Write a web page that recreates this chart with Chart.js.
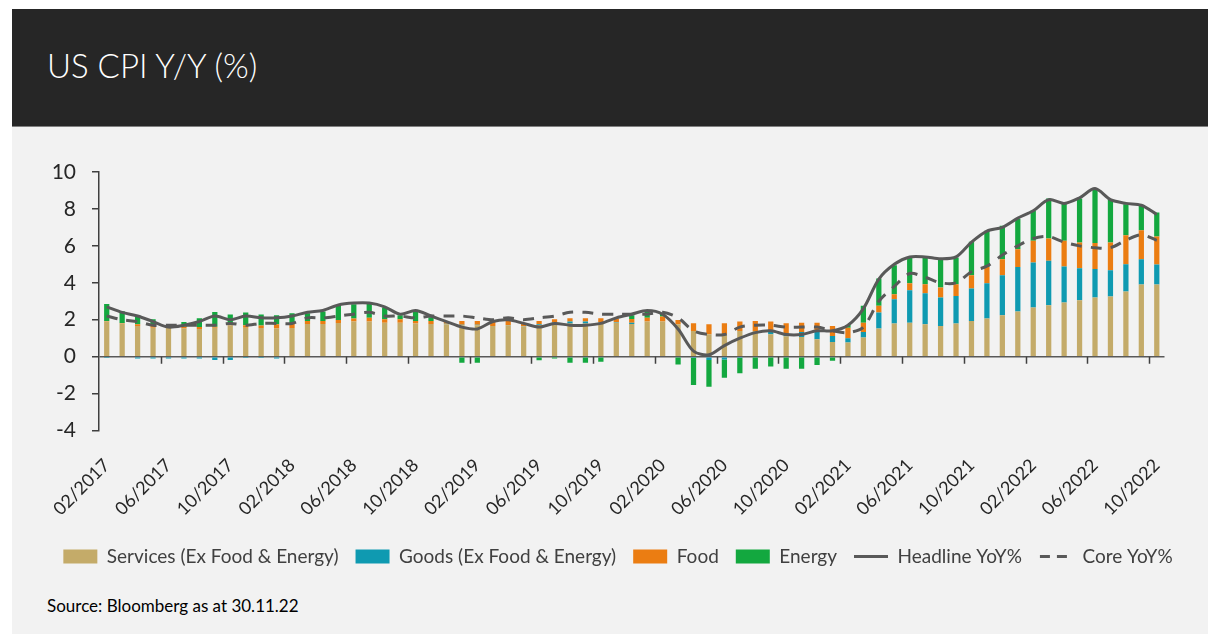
<!DOCTYPE html>
<html>
<head>
<meta charset="utf-8">
<title>US CPI Y/Y (%)</title>
<script src="https://cdn.jsdelivr.net/npm/chart.js@4.4.0/dist/chart.umd.min.js"></script>
<style>
  body { margin: 0; background: #fff; font-family: Lato, "Open Sans", sans-serif; }
  #page { position: relative; width: 1208px; height: 634px; overflow: hidden; }
  #header { position: absolute; left: 12px; top: 9px; width: 1196px; height: 117px; background: #262626; border-bottom: 1px solid #7f7f7f; }
  #header h1 { margin: 0; position: absolute; left: 35px; top: 40px; color: #fff; font-weight: 300; font-size: 33px; line-height: 33px; }
  #panel { position: absolute; left: 12px; top: 127px; width: 1196px; height: 507px; background: #f2f2f2; }
  #chart { position: absolute; left: 0; top: 0; }
  #source { position: absolute; left: 35px; top: 470px; font-size: 17px; line-height: 17px; color: #000; }
</style>
</head>
<body>
<div id="page">
  <div id="header"><h1>US CPI Y/Y (%)</h1></div>
  <div id="panel">
    <canvas id="chart" width="1196" height="449"></canvas>
    <div id="source">Source: Bloomberg as at 30.11.22</div>
  </div>
</div>
<script>
// Months, 02/2017 - 10/2022
const months = [
  '02/2017','03/2017','04/2017','05/2017','06/2017','07/2017','08/2017','09/2017','10/2017','11/2017','12/2017',
  '01/2018','02/2018','03/2018','04/2018','05/2018','06/2018','07/2018','08/2018','09/2018','10/2018','11/2018','12/2018',
  '01/2019','02/2019','03/2019','04/2019','05/2019','06/2019','07/2019','08/2019','09/2019','10/2019','11/2019','12/2019',
  '01/2020','02/2020','03/2020','04/2020','05/2020','06/2020','07/2020','08/2020','09/2020','10/2020','11/2020','12/2020',
  '01/2021','02/2021','03/2021','04/2021','05/2021','06/2021','07/2021','08/2021','09/2021','10/2021','11/2021','12/2021',
  '01/2022','02/2022','03/2022','04/2022','05/2022','06/2022','07/2022','08/2022','09/2022','10/2022'
];

// Contributions to Y/Y (percentage points)
const services = [
  1.90,1.79,1.66,1.57,1.63,1.53,1.50,1.57,1.70,1.57,1.55,
  1.53,1.55,1.77,1.77,1.82,1.90,1.90,1.84,1.84,1.79,1.77,1.75,
  1.70,1.70,1.66,1.70,1.63,1.72,1.75,1.80,1.80,1.85,1.84,1.77,
  1.90,1.90,1.75,1.39,1.21,1.21,1.39,1.39,1.21,1.10,1.06,0.94,
  0.79,0.76,1.03,1.52,1.79,1.84,1.76,1.66,1.79,1.93,2.06,2.24,
  2.44,2.66,2.78,2.93,3.05,3.20,3.26,3.53,3.91,3.91
];
const goods = [
  -0.07,-0.05,-0.10,-0.10,-0.10,-0.10,-0.10,-0.18,-0.18,-0.07,-0.08,
  -0.10,-0.05,0.00,-0.05,0.00,0.00,0.00,0.00,0.00,0.00,0.00,0.03,
  0.03,0.03,0.00,0.02,0.02,0.03,0.10,0.10,0.10,0.03,0.02,0.07,
  0.00,0.00,0.00,-0.08,-0.18,-0.15,-0.07,0.00,0.13,0.15,0.28,0.45,
  0.33,0.23,0.31,0.87,1.32,1.76,1.67,1.54,1.50,1.76,1.92,2.17,
  2.42,2.44,2.41,1.95,1.74,1.54,1.42,1.48,1.37,1.08
];
const food = [
  0.03,0.03,0.09,0.09,0.07,0.09,0.11,0.05,0.09,0.13,0.14,
  0.22,0.22,0.16,0.16,0.16,0.16,0.20,0.18,0.18,0.14,0.16,0.12,
  0.20,0.20,0.24,0.25,0.12,0.18,0.17,0.18,0.18,0.20,0.20,0.20,
  0.20,0.27,0.24,0.42,0.54,0.60,0.51,0.54,0.56,0.56,0.50,0.45,
  0.54,0.58,0.50,0.36,0.27,0.38,0.49,0.54,0.63,0.72,0.88,0.87,
  0.96,1.17,1.21,1.39,1.39,1.41,1.50,1.57,1.57,1.52
];
const energy = [
  0.92,0.64,0.48,0.36,0.02,0.26,0.47,0.80,0.49,0.69,0.59,
  0.49,0.58,0.42,0.51,0.80,0.78,0.78,0.64,0.22,0.55,0.20,0.00,
  -0.33,-0.33,-0.05,0.02,-0.05,-0.20,-0.10,-0.33,-0.33,-0.27,0.02,0.20,
  0.32,0.18,-0.42,-1.46,-1.45,-0.99,-0.83,-0.65,-0.54,-0.65,-0.65,-0.45,
  -0.22,0.15,0.91,1.48,1.57,1.39,1.45,1.54,1.45,1.81,1.96,1.81,
  1.63,1.63,2.17,2.03,2.39,2.96,2.35,1.68,1.32,1.30
];

// Headline and core Y/Y %
const headline = [
  2.7,2.4,2.2,1.9,1.6,1.7,1.9,2.2,2.0,2.2,2.1,
  2.1,2.2,2.4,2.5,2.8,2.9,2.9,2.7,2.3,2.5,2.2,1.9,
  1.6,1.5,1.9,2.0,1.8,1.6,1.8,1.7,1.7,1.8,2.1,2.3,
  2.5,2.3,1.5,0.3,0.1,0.6,1.0,1.3,1.4,1.2,1.2,1.4,
  1.4,1.7,2.6,4.2,5.0,5.4,5.4,5.3,5.4,6.2,6.8,7.0,
  7.5,7.9,8.5,8.3,8.6,9.1,8.5,8.3,8.2,7.7
];
const core = [
  2.2,2.0,1.9,1.7,1.7,1.7,1.7,1.7,1.8,1.7,1.8,
  1.8,1.8,2.1,2.1,2.2,2.3,2.4,2.2,2.2,2.1,2.2,2.2,
  2.2,2.1,2.0,2.1,2.0,2.1,2.2,2.4,2.4,2.3,2.3,2.3,
  2.3,2.4,2.1,1.4,1.2,1.2,1.6,1.7,1.7,1.6,1.6,1.6,
  1.4,1.3,1.6,3.0,3.8,4.5,4.3,4.0,4.0,4.6,4.9,5.5,
  6.0,6.4,6.5,6.2,6.0,5.9,5.9,6.3,6.6,6.3
];

const yTicks = [-4, -2, 0, 2, 4, 6, 8, 10];
const labelEvery = 4;

const textColor = '#262626';
const lineColor = '#595959';

// small tick marks on the zero line, between every 4th category
const zeroTicks = {
  id: 'zeroTicks',
  afterDatasetsDraw(chart) {
    const x = chart.scales.x, y = chart.scales.y;
    const y0 = y.getPixelForValue(0);
    const ctx = chart.ctx;
    ctx.save();
    ctx.strokeStyle = '#404040';
    ctx.lineWidth = 1.5;
    ctx.beginPath();
    for (let i = labelEvery - 0.5; i < months.length - 1; i += labelEvery) {
      const px = Math.round(x.getPixelForValue(i)) + 0.5;
      ctx.moveTo(px, y0);
      ctx.lineTo(px, y0 + 7);
    }
    ctx.stroke();
    ctx.restore();
  }
};

function barSet(label, data, color) {
  return {
    type: 'bar', label, data, backgroundColor: color, borderWidth: 0,
    stack: 'cpi', order: 1, pointStyle: 'rect',
    barPercentage: 0.34, categoryPercentage: 1
  };
}

// legend: keep dataset order, and let the line items keep their dash
function legendLabels(chart) {
  const items = Chart.defaults.plugins.legend.labels.generateLabels(chart);
  items.forEach(item => {
    const ds = chart.data.datasets[item.datasetIndex];
    if (ds.type === 'line') {
      item.lineWidth = 3;
      item.strokeStyle = ds.borderColor;
      item.lineDash = ds.borderDash ? [10, 7] : [];
      item.lineDashOffset = ds.borderDash ? -1 : 0;
    }
  });
  return items.sort((a, b) => a.datasetIndex - b.datasetIndex);
}

new Chart(document.getElementById('chart'), {
  data: {
    labels: months,
    datasets: [
      barSet('Services (Ex Food & Energy)', services, '#C4AB69'),
      barSet('Goods (Ex Food & Energy)', goods, '#0F9AB1'),
      barSet('Food', food, '#EB7D12'),
      barSet('Energy', energy, '#13A83F'),
      {
        type: 'line', label: 'Headline YoY%', data: headline, stack: 'headline', order: 0,
        borderColor: lineColor, borderWidth: 3, pointRadius: 0, tension: 0.3, pointStyle: 'line'
      },
      {
        type: 'line', label: 'Core YoY%', data: core, stack: 'core', order: 0,
        borderColor: lineColor, borderWidth: 3, borderDash: [11, 9], pointRadius: 0, tension: 0.3, pointStyle: 'line'
      }
    ]
  },
  options: {
    responsive: false,
    animation: false,
    devicePixelRatio: 1,
    layout: { padding: { left: 16, top: 45, right: 0, bottom: 0 } },
    plugins: {
      tooltip: { enabled: false },
      legend: {
        position: 'bottom',
        labels: {
          usePointStyle: true, pointStyleWidth: 34, boxHeight: 14, padding: 17,
          color: '#404040', font: { family: 'Lato', size: 19 },
          generateLabels: legendLabels
        }
      }
    },
    scales: {
      x: {
        stacked: true,
        grid: { display: false },
        border: { display: false },
        ticks: {
          autoSkip: false, minRotation: 45, maxRotation: 45, padding: 16,
          color: textColor, font: { family: 'Lato', size: 18 },
          callback(v, i) { return i % labelEvery === 0 ? months[i] : ''; }
        },
        afterFit(s) { s.height = 99.5; }
      },
      y: {
        stacked: true,
        min: -4, max: 10,
        afterBuildTicks(s) { s.ticks = yTicks.map(v => ({ value: v })); },
        border: { display: true, color: '#404040', width: 1.5 },
        grid: {
          color: c => c.tick && c.tick.value === 0 ? lineColor : 'rgba(0,0,0,0)',
          lineWidth: 1.5, tickColor: '#404040', tickLength: 7
        },
        ticks: { padding: 16, color: textColor, font: { family: 'Lato', size: 21 } },
        afterFit(s) { s.width = 71; }
      },
      yR: {
        position: 'right', display: true,
        grid: { display: false }, border: { display: false },
        ticks: { display: false },
        afterFit(s) { s.width = 43.5; }
      }
    }
  },
  plugins: [zeroTicks]
});
</script>
</body>
</html>
